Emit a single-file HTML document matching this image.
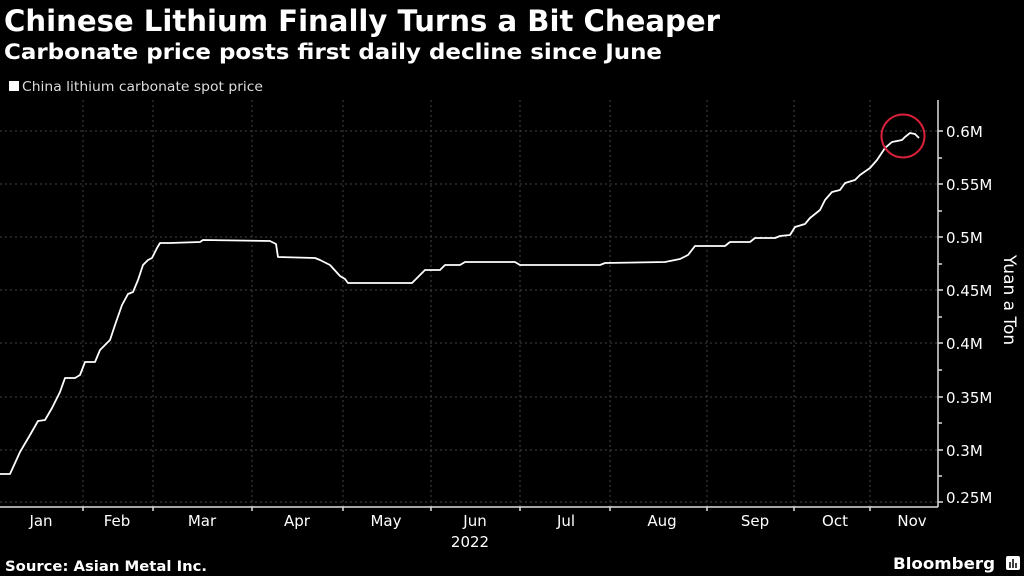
<!DOCTYPE html>
<html><head><meta charset="utf-8"><style>
body{margin:0;width:1024px;height:576px;background:#000;overflow:hidden;font-family:"DejaVu Sans","Liberation Sans",sans-serif;color:#fff}
</style></head><body>
<svg width="1024" height="576" xmlns="http://www.w3.org/2000/svg" style="position:absolute;left:0;top:0">
<text x="4" y="31" font-family="DejaVu Sans" font-weight="bold" font-size="29" fill="#fff" textLength="716" lengthAdjust="spacingAndGlyphs">Chinese Lithium Finally Turns a Bit Cheaper</text>
<text x="4" y="59" font-family="DejaVu Sans" font-weight="bold" font-size="21" fill="#fff" textLength="658" lengthAdjust="spacingAndGlyphs">Carbonate price posts first daily decline since June</text>
<rect x="9" y="81" width="10" height="10" fill="#fff"/>
<text x="22" y="91" font-family="DejaVu Sans" font-size="13.5" fill="#ddd" textLength="241" lengthAdjust="spacingAndGlyphs">China lithium carbonate spot price</text>
<g stroke="#444" stroke-width="1" stroke-dasharray="2,3">
<line x1="0" x2="938" y1="131" y2="131"/><line x1="0" x2="938" y1="184" y2="184"/><line x1="0" x2="938" y1="237" y2="237"/><line x1="0" x2="938" y1="290" y2="290"/><line x1="0" x2="938" y1="343" y2="343"/><line x1="0" x2="938" y1="397" y2="397"/><line x1="0" x2="938" y1="450" y2="450"/><line x1="0" x2="938" y1="502" y2="502"/>
<line x1="83" x2="83" y1="100" y2="507"/><line x1="153" x2="153" y1="100" y2="507"/><line x1="252" x2="252" y1="100" y2="507"/><line x1="343" x2="343" y1="100" y2="507"/><line x1="431" x2="431" y1="100" y2="507"/><line x1="520" x2="520" y1="100" y2="507"/><line x1="610" x2="610" y1="100" y2="507"/><line x1="707" x2="707" y1="100" y2="507"/><line x1="794" x2="794" y1="100" y2="507"/><line x1="870" x2="870" y1="100" y2="507"/>
</g>
<g stroke="#ddd" stroke-width="1.5">
<line x1="0" x2="938" y1="507" y2="507"/><line x1="938" x2="938" y1="100" y2="507"/>
<line x1="83" x2="83" y1="507" y2="511"/><line x1="153" x2="153" y1="507" y2="511"/><line x1="252" x2="252" y1="507" y2="511"/><line x1="343" x2="343" y1="507" y2="511"/><line x1="431" x2="431" y1="507" y2="511"/><line x1="520" x2="520" y1="507" y2="511"/><line x1="610" x2="610" y1="507" y2="511"/><line x1="707" x2="707" y1="507" y2="511"/><line x1="794" x2="794" y1="507" y2="511"/><line x1="870" x2="870" y1="507" y2="511"/>
<line x1="938" x2="943" y1="131" y2="131"/><line x1="938" x2="943" y1="184" y2="184"/><line x1="938" x2="943" y1="237" y2="237"/><line x1="938" x2="943" y1="290" y2="290"/><line x1="938" x2="943" y1="343" y2="343"/><line x1="938" x2="943" y1="397" y2="397"/><line x1="938" x2="943" y1="450" y2="450"/><line x1="938" x2="943" y1="502" y2="502"/>
<line x1="938" x2="942" y1="158" y2="158"/><line x1="938" x2="942" y1="211" y2="211"/><line x1="938" x2="942" y1="264" y2="264"/><line x1="938" x2="942" y1="317" y2="317"/><line x1="938" x2="942" y1="370" y2="370"/><line x1="938" x2="942" y1="423" y2="423"/><line x1="938" x2="942" y1="476" y2="476"/>
</g>
<g font-family="DejaVu Sans" font-size="15" fill="#fff">
<text x="946" y="137">0.6M</text><text x="946" y="190">0.55M</text><text x="946" y="243">0.5M</text><text x="946" y="296">0.45M</text><text x="946" y="349">0.4M</text><text x="946" y="403">0.35M</text><text x="946" y="456">0.3M</text><text x="946" y="503">0.25M</text>
</g>
<text transform="translate(1004,300) rotate(90)" text-anchor="middle" font-family="DejaVu Sans" font-size="17" fill="#fff">Yuan a Ton</text>
<g font-family="DejaVu Sans" font-size="15" fill="#fff" text-anchor="middle">
<text x="41" y="526">Jan</text><text x="117" y="526">Feb</text><text x="202" y="526">Mar</text><text x="297" y="526">Apr</text><text x="386" y="526">May</text><text x="475" y="526">Jun</text><text x="470" y="547">2022</text><text x="566" y="526">Jul</text><text x="662" y="526">Aug</text><text x="755" y="526">Sep</text><text x="835" y="526">Oct</text><text x="912" y="526">Nov</text>
</g>
<polyline fill="none" stroke="#fff" stroke-width="1.8" stroke-linejoin="round" points="0,474 10,474 20,452 30,435 38,421 45,420 52,408 60,392 65,378 75,378 80,375 85,362 95,362 100,350 110,340 115,325 122,305 128,294 133,292 138,280 143,265 148,260 152,258 157,248 160,243 170,243 200,242 203,240 270,241 276,244 278,257 315,258 320,260 330,265 340,276 345,279 348,283 412,283 418,277 425,270 440,270 445,265 460,265 465,262 515,262 520,265 600,265 605,263 665,262 680,259 688,255 695,246 725,246 730,242 750,242 755,238 775,238 780,236 790,235 795,227 805,224 810,218 820,210 825,200 832,192 840,190 845,183 855,180 860,175 870,168 877,160 885,148 892,142 902,140 905,137 910,133 915,134 919,138"/>
<circle cx="903" cy="136" r="21.5" fill="none" stroke="#d9213c" stroke-width="2"/>
<text x="5" y="571" font-family="DejaVu Sans" font-weight="bold" font-size="14.5" fill="#fff" textLength="202" lengthAdjust="spacingAndGlyphs">Source: Asian Metal Inc.</text>
<text x="893" y="569" font-family="DejaVu Sans" font-weight="bold" font-size="16" fill="#fff" textLength="102" lengthAdjust="spacingAndGlyphs">Bloomberg</text>
<rect x="1006" y="556" width="14" height="14" rx="2" fill="#fff"/>
<g stroke="#000" stroke-width="1.5"><line x1="1010" x2="1010" y1="562" y2="568"/><line x1="1013" x2="1013" y1="559" y2="568"/><line x1="1016" x2="1016" y1="563" y2="568"/></g>
</svg>
</body></html>
